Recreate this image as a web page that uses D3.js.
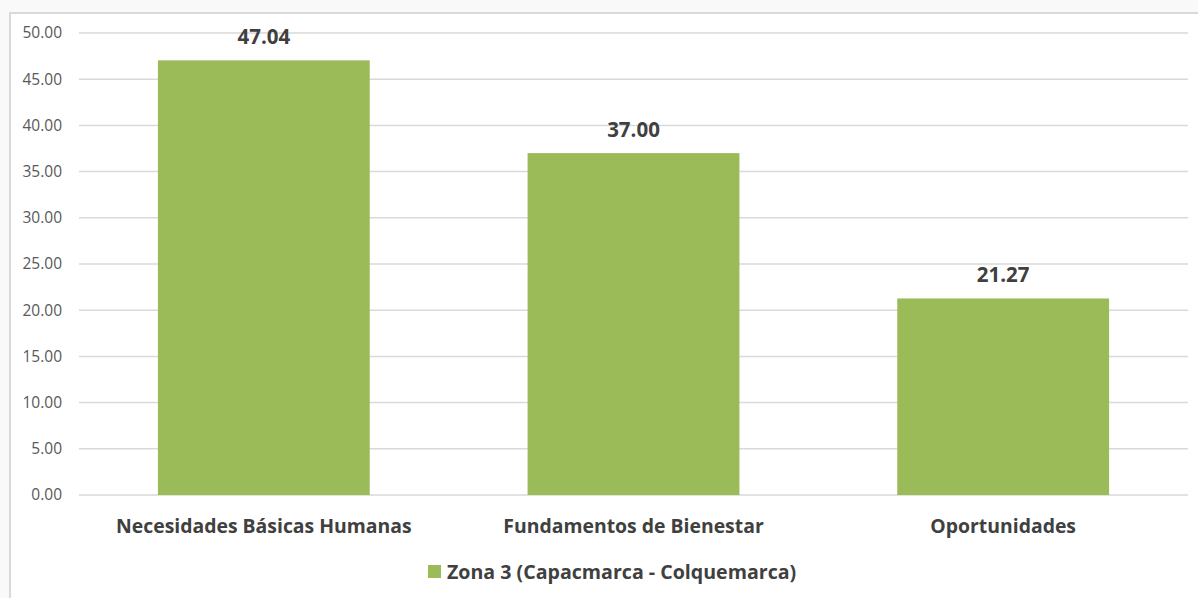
<!DOCTYPE html>
<html><head><meta charset="utf-8">
<script src="https://cdn.jsdelivr.net/npm/d3@7"></script>
<style>
html,body{margin:0;padding:0;background:#f9f9f9;}
svg{display:block;}
</style></head>
<body><svg id="c" width="1198" height="598"></svg>
<script>
const categories = ["Necesidades Básicas Humanas", "Fundamentos de Bienestar", "Oportunidades"];
const values = [47.04, 37.00, 21.27];
const seriesName = "Zona 3 (Capacmarca - Colquemarca)";
const yTicks = [0, 5, 10, 15, 20, 25, 30, 35, 40, 45, 50];

const svg = d3.select("#c");
const font = "'Open Sans', sans-serif";
// chart frame
svg.append("rect").attr("x", 10).attr("y", 13).attr("width", 1200).attr("height", 600)
  .attr("fill", "#ffffff").attr("stroke", "#d9d9d9").attr("stroke-width", 2);

const m = {left: 79, right: 1188, top: 33, bottom: 495};
const x = d3.scaleBand().domain(categories).range([m.left, m.right]).paddingInner(0.427).paddingOuter(0.2135);
const y = d3.scaleLinear().domain([0, 50]).range([m.bottom, m.top]);

// gridlines
svg.append("g").selectAll("line").data(yTicks).join("line")
  .attr("x1", m.left).attr("x2", m.right)
  .attr("y1", d => y(d)).attr("y2", d => y(d))
  .attr("stroke", "#d9d9d9").attr("stroke-width", 1.5);

// y axis labels
const yAxis = d3.axisLeft(y).tickValues(yTicks).tickFormat(d3.format(".2f")).tickSize(0).tickPadding(0);
const gy = svg.append("g").attr("transform", `translate(62,0)`).call(yAxis);
gy.select(".domain").remove();
gy.selectAll("text").attr("font-family", font).attr("font-size", 15.5).attr("fill", "#595959");

// bars
svg.append("g").selectAll("rect").data(values).join("rect")
  .attr("x", (d, i) => x(categories[i]))
  .attr("width", x.bandwidth())
  .attr("y", d => y(d))
  .attr("height", d => y(0) - y(d))
  .attr("fill", "#9bbb59");

// value labels
svg.append("g").selectAll("text").data(values).join("text")
  .attr("x", (d, i) => x(categories[i]) + x.bandwidth() / 2)
  .attr("y", d => y(d) - 16)
  .attr("text-anchor", "middle")
  .attr("font-family", font).attr("font-weight", "bold").attr("font-size", 20.5)
  .attr("fill", "#404040")
  .text(d => d.toFixed(2));

// x axis labels
const xAxis = d3.axisBottom(x).tickSize(0).tickPadding(0);
const gx = svg.append("g").attr("transform", `translate(0,${m.bottom + 38})`).call(xAxis);
gx.select(".domain").remove();
gx.selectAll("text").attr("font-family", font).attr("font-weight", "bold").attr("font-size", 19.4)
  .attr("fill", "#404040").attr("dy", 0);

// legend
const lg = svg.append("g");
lg.append("rect").attr("x", 428).attr("y", 565).attr("width", 13).attr("height", 13).attr("fill", "#9bbb59");
lg.append("text").attr("x", 447).attr("y", 579).attr("font-family", font).attr("font-weight", "bold")
  .attr("font-size", 19.6).attr("fill", "#404040").text(seriesName);
</script></body></html>
